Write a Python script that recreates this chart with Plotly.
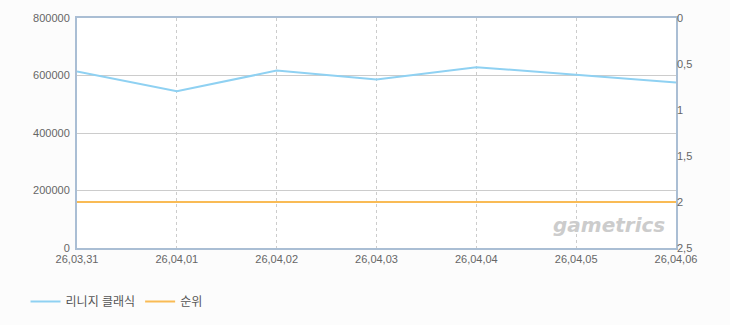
import plotly.graph_objects as go

dates = ["26,03,31", "26,04,01", "26,04,02", "26,04,03", "26,04,04", "26,04,05", "26,04,06"]
users = [614000, 545000, 617000, 586000, 629000, 602000, 576000]
rank = [2, 2, 2, 2, 2, 2, 2]
left_ticks = [0, 200000, 400000, 600000, 800000]
left_labels = ["0", "200000", "400000", "600000", "800000"]
right_ticks = [0, 0.5, 1, 1.5, 2, 2.5]
right_labels = ["0", "0,5", "1", "1,5", "2", "2,5"]

font = "Liberation Sans, Noto Sans CJK KR, sans-serif"
fig = go.Figure()
fig.add_trace(go.Scatter(x=dates, y=users, name="리니지 클래식", mode="lines",
                         line=dict(color="#8fd1f2", width=2), yaxis="y"))
fig.add_trace(go.Scatter(x=dates, y=rank, name="순위", mode="lines",
                         line=dict(color="#f9bb55", width=2), yaxis="y2"))

fig.update_layout(
    width=730, height=325,
    margin=dict(l=77, r=54, t=16, b=77),
    paper_bgcolor="#fcfcfc", plot_bgcolor="#ffffff",
    font=dict(family=font, size=11, color="#666666"),
    showlegend=True,
    legend=dict(orientation="h", xref="container", yref="container", x=0.035, y=0.072,
                xanchor="left", yanchor="middle", font=dict(size=12, color="#555555"),
                itemwidth=30, bgcolor="rgba(0,0,0,0)"),
    xaxis=dict(type="category", range=[0, 6], showgrid=True, gridcolor="#cccccc",
               griddash="3px,3px", gridwidth=1, showline=True, linecolor="#aabed4",
               linewidth=2, mirror=True, ticks="", tickfont=dict(size=11, color="#666"),
               zeroline=False),
    yaxis=dict(range=[0, 800000], tickvals=left_ticks, ticktext=left_labels,
               showgrid=True, gridcolor="#cccccc", gridwidth=1, showline=True,
               linecolor="#aabed4", linewidth=2, mirror=True, zeroline=False,
               ticks="", ticklabelstandoff=3),
    yaxis2=dict(range=[2.5, 0], overlaying="y", side="right", tickvals=right_ticks,
                ticktext=right_labels, showgrid=False, zeroline=False, showline=False,
                ticks=""),
    annotations=[dict(text="<b><i>gametrics</i></b>", xref="paper", yref="paper",
                      x=0.985, y=0.04, xanchor="right", yanchor="bottom",
                      showarrow=False, font=dict(size=20, color="#cccccc",
                                                 family="DejaVu Sans"))],
)
fig.write_html("out.html")
